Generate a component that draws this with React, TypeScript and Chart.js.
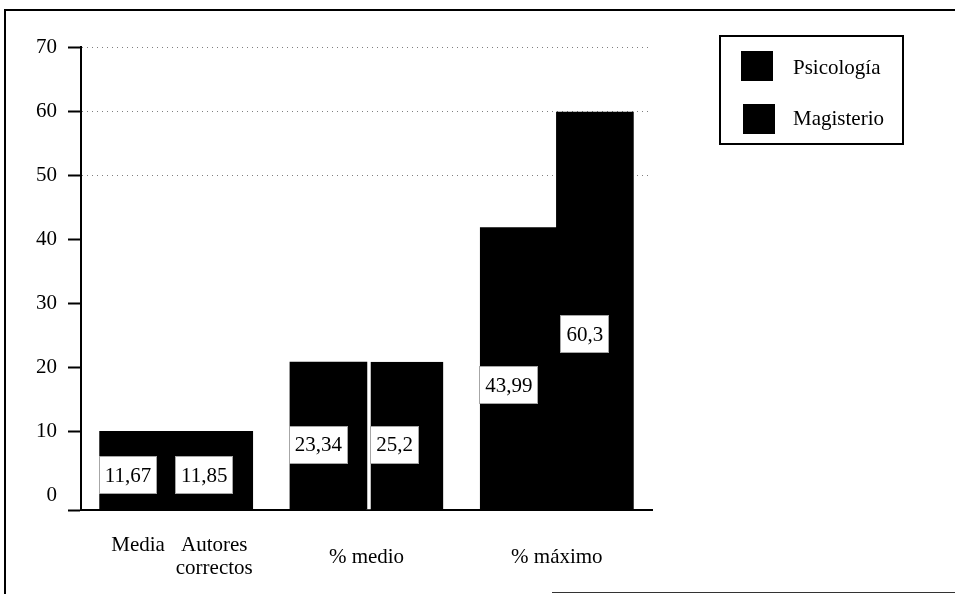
import { useEffect, useRef } from "react";
import { Chart, registerables } from "chart.js";

Chart.register(...registerables);

const categories = ["Media Autores correctos", "% medio", "% máximo"];
const firstGroupBarLabels = [["Media"], ["Autores", "correctos"]];
const seriesNames = ["Psicología", "Magisterio"];
// bar heights as drawn against the axis
const psicologiaHeights = [10.1, 20.9, 41.9];
const magisterioHeights = [10.1, 20.9, 59.9];
// value labels printed on the bars
const psicologiaLabels = [11.67, 23.34, 43.99];
const magisterioLabels = [11.85, 25.2, 60.3];
const yTicks = [0, 10, 20, 30, 40, 50, 60, 70];
const Y_MIN = -2.2;
const Y_MAX = 70;

const SERIF = '"Liberation Serif", "Times New Roman", serif';

const valueBoxes = {
  id: "valueBoxes",
  afterDatasetsDraw(chart: any) {
    const ctx = chart.ctx;
    const labels = [psicologiaLabels, magisterioLabels];
    ctx.save();
    ctx.font = `21px ${SERIF}`;
    ctx.textAlign = "center";
    ctx.textBaseline = "middle";
    chart.data.datasets.forEach((_ds: any, i: number) => {
      const meta = chart.getDatasetMeta(i);
      meta.data.forEach((el: any, j: number) => {
        const text = String(labels[i][j]).replace(".", ",");
        const { x, y, base } = el.getProps(["x", "y", "base"], true);
        const cx = x - 10;
        const cy = base - 0.44 * (base - y);
        const w = Math.round(ctx.measureText(text).width + 12);
        const h = 38;
        const left = Math.round(cx - w / 2);
        const top = Math.round(cy - h / 2);
        ctx.fillStyle = "#fff";
        ctx.fillRect(left, top, w, h);
        ctx.strokeStyle = "rgba(0,0,0,0.35)";
        ctx.lineWidth = 1;
        ctx.strokeRect(left + 0.5, top + 0.5, w - 1, h - 1);
        ctx.fillStyle = "#000";
        ctx.fillText(text, cx, cy + 1);
      });
    });
    ctx.restore();
  },
};

const categoryText = {
  id: "categoryText",
  afterDraw(chart: any) {
    const ctx = chart.ctx;
    const xs = chart.scales.x;
    const bottom = chart.chartArea.bottom;
    ctx.save();
    ctx.font = `21px ${SERIF}`;
    ctx.fillStyle = "#000";
    ctx.textAlign = "center";
    ctx.textBaseline = "middle";
    categories.forEach((c, i) => {
      if (i === 0) {
        firstGroupBarLabels.forEach((lines, k) => {
          const el = chart.getDatasetMeta(k).data[0];
          lines.forEach((ln, m) => ctx.fillText(ln, el.x, bottom + 35 + m * 23));
        });
      } else {
        ctx.fillText(c, xs.getPixelForValue(i), bottom + 47);
      }
    });
    ctx.restore();
  },
};

const boxLegend = {
  id: "boxLegend",
  afterDraw(chart: any) {
    const ctx = chart.ctx;
    const lg = { left: 720, top: 36, width: 183, height: 108 };
    ctx.save();
    ctx.strokeStyle = "#000";
    ctx.lineWidth = 2;
    ctx.strokeRect(lg.left, lg.top, lg.width, lg.height);
    ctx.font = `21px ${SERIF}`;
    ctx.textAlign = "left";
    ctx.textBaseline = "middle";
    chart.data.datasets.forEach((ds: any, k: number) => {
      ctx.fillStyle = ds.backgroundColor;
      ctx.fillRect(lg.left + 21 + k * 2, lg.top + 15 + k * 53, 32, 30);
      ctx.fillStyle = "#000";
      ctx.fillText(ds.label, lg.left + 73, lg.top + 32 + k * 51);
    });
    ctx.restore();
  },
};

export default function App() {
  const ref = useRef<HTMLCanvasElement | null>(null);

  useEffect(() => {
    if (!ref.current) return;
    const chart = new Chart(ref.current, {
      type: "bar",
      data: {
        labels: categories,
        datasets: [
          {
            label: seriesNames[0],
            data: psicologiaHeights,
            backgroundColor: "#000",
            base: Y_MIN,
            categoryPercentage: 0.8,
            barPercentage: 1.02,
            borderWidth: 0,
            inflateAmount: 0,
          } as any,
          {
            label: seriesNames[1],
            data: magisterioHeights,
            backgroundColor: "#000",
            base: Y_MIN,
            categoryPercentage: 0.8,
            barPercentage: 1.02,
            borderColor: "#fff",
            borderSkipped: false,
            inflateAmount: 0,
            borderWidth: (c: any) =>
              c.dataIndex === 1 ? { left: 5, top: 0, right: 0, bottom: 0 } : 0,
          } as any,
        ],
      },
      options: {
        responsive: false,
        animation: false,
        layout: { padding: { left: 0, right: 303, top: 47, bottom: 84 } },
        plugins: { legend: { display: false }, tooltip: { enabled: false } },
        scales: {
          x: {
            type: "category",
            offset: true,
            grid: { color: "rgba(0,0,0,0)", drawTicks: false },
            ticks: { display: false },
            border: { color: "#000", width: 2 },
            afterFit: (s: any) => {
              s.height = 0;
            },
          },
          y: {
            min: Y_MIN,
            max: Y_MAX,
            afterFit: (s: any) => {
              s.width = 81;
            },
            afterBuildTicks: (s: any) => {
              s.ticks = [Y_MIN, ...yTicks].map((v) => ({ value: v }));
            },
            ticks: {
              font: { family: SERIF, size: 21 },
              color: "#000",
              padding: 11,
              callback: (v: any) => (v === Y_MIN ? "" : String(v)),
            },
            grid: {
              color: (c: any) =>
                c.tick && c.tick.value >= 50 ? "rgba(0,0,0,0.5)" : "rgba(0,0,0,0)",
              lineWidth: 1,
              tickColor: (c: any) =>
                c.tick && c.tick.value === 0 ? "rgba(0,0,0,0)" : "#000",
              tickLength: 13,
              tickWidth: 2,
            },
            border: { color: "#000", width: 2, dash: [1, 4] },
          },
        },
      } as any,
      plugins: [valueBoxes, categoryText, boxLegend],
    });
    return () => chart.destroy();
  }, []);

  return (
    <div
      style={{
        position: "fixed",
        left: 0,
        top: 0,
        width: 955,
        height: 594,
        background: "#fff",
        overflow: "hidden",
      }}
    >
      <canvas ref={ref} width={955} height={594} style={{ position: "absolute", left: 0, top: 0 }} />
      <div style={{ position: "absolute", left: 4, top: 9, width: 951, height: 2, background: "#000" }} />
      <div style={{ position: "absolute", left: 4, top: 9, width: 2, height: 585, background: "#000" }} />
      <div style={{ position: "absolute", left: 552, top: 592, width: 403, height: 1, background: "#333" }} />
    </div>
  );
}
